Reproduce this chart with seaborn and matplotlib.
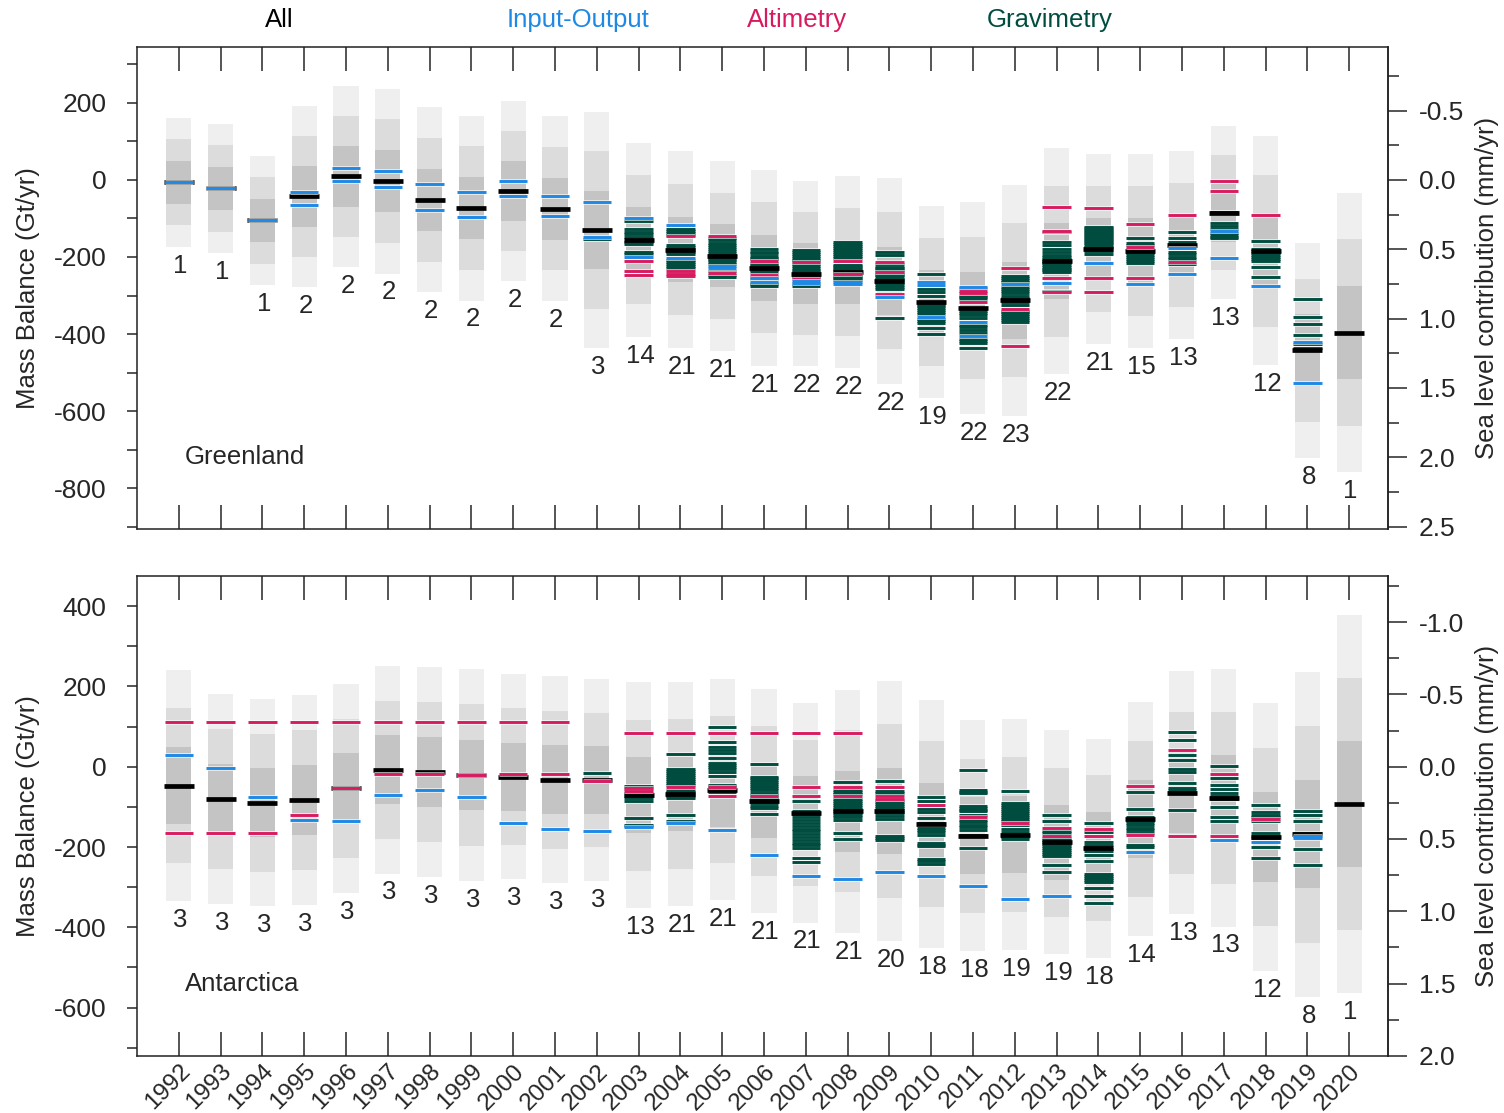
import numpy as np
import pandas as pd
import matplotlib
matplotlib.use("Agg")
import matplotlib.pyplot as plt
import matplotlib.patheffects as pe
from matplotlib.ticker import MultipleLocator, FuncFormatter
import seaborn as sns

years = list(range(1992, 2021))

# ---------------- Greenland ----------------
gre_mean = [-6, -22, -105, -43, 9, -3, -52, -73, -28, -75, -130, -155, -181, -197, -228,
            -243, -240, -262, -316, -332, -312, -211, -180, -184, -169, -85, -184, -442, -396]
gre_sigma = [56, 56, 56, 78, 78, 80, 80, 80, 78, 80, 102, 84, 85, 82, 85,
             80, 83, 89, 83, 92, 100, 98, 82, 84, 81, 75, 99, 93, 121]
gre_count = [1, 1, 1, 2, 2, 2, 2, 2, 2, 2, 3, 14, 21, 21, 21, 22, 22, 22, 19, 22, 23,
             22, 21, 15, 13, 13, 12, 8, 1]
gre_io = {1992: [-6], 1993: [-22], 1994: [-105], 1995: [-31, -66], 1996: [30, -3],
          1997: [24, -18], 1998: [-10, -78], 1999: [-32, -97], 2000: [-2, -43],
          2001: [-42, -94], 2002: [-56, -147], 2003: [-100, -199], 2004: [-117, -203],
          2005: [-223, -228], 2006: [-255, -264], 2007: [-262, -267], 2008: [-264, -270],
          2009: [-303], 2010: [-264, -272, -355], 2011: [-277, -368, -404], 2012: [-270],
          2013: [-267], 2014: [-215], 2015: [-271], 2016: [-177, -245], 2017: [-132, -203],
          2018: [-275], 2019: [-526, -420]}
gre_alt = {2003: [-211, -237, -247], 2004: [-146, -237, -243, -249], 2005: [-145, -242],
           2006: [-210, -247], 2007: [-213, -257], 2008: [-211, -243], 2009: [-212, -240, -296],
           2011: [-281, -287, -293, -318], 2012: [-229, -336, -430],
           2013: [-69, -132, -255, -290], 2014: [-72, -255, -292], 2015: [-114, -175, -255],
           2016: [-90, -212], 2017: [-2, -29], 2018: [-90]}
gre_grav = {2002: [-153],
            2003: [-106, -128, -134, -140, -147, -160, -166, -186, -193],
            2004: [-127, -132, -138, -143, -168, -173, -178, -183, -188, -193, -208, -213, -219, -224, -229],
            2005: [-151, -157, -163, -169, -174, -179, -184, -189, -194, -199, -204, -209, -214, -219, -236, -247, -252],
            2006: [-178, -186, -190, -197, -206, -216, -220, -224, -229, -233, -238, -251, -258, -268, -271, -275, -203],
            2007: [-183, -188, -193, -197, -203, -207, -210, -219, -224, -229, -233, -237, -241, -245, -249, -252, -271, -275],
            2008: [-162, -167, -172, -177, -182, -187, -192, -197, -203, -220, -224, -228, -232, -236, -247, -251, -255, -259],
            2009: [-188, -195, -218, -225, -229, -234, -238, -244, -248, -252, -256, -260, -264, -268, -272, -277, -283, -359],
            2010: [-244, -282, -290, -300, -320, -324, -328, -333, -338, -343, -348, -360, -366, -372, -384, -401],
            2011: [-300, -305, -310, -340, -345, -351, -358, -377, -383, -390, -397, -412, -418, -424, -435],
            2012: [-250, -255, -260, -264, -277, -282, -288, -294, -300, -307, -318, -325, -339, -344, -349, -354, -359, -364, -369],
            2013: [-135, -162, -170, -179, -188, -195, -200, -205, -210, -213, -215, -220, -225, -230, -235, -238, -287],
            2014: [-121, -125, -129, -133, -137, -141, -145, -149, -153, -157, -161, -165, -169, -173, -177, -185, -192],
            2015: [-151, -165, -170, -180, -186, -190, -196, -201, -206, -211, -216],
            2016: [-135, -150, -160, -169, -186, -193, -199, -204, -219],
            2017: [-83, -87, -113, -120, -127, -138, -144, -148, -151],
            2018: [-158, -180, -184, -190, -195, -200, -205, -210, -227, -251],
            2019: [-309, -355, -374, -403, -425, -437],
            2020: [-396]}

# ---------------- Antarctica ----------------
ant_mean = [-47, -81, -90, -83, -54, -8, -13, -21, -25, -32, -33, -71, -68, -57, -85,
            -115, -111, -110, -143, -172, -169, -188, -203, -130, -65, -77, -175, -168, -93]
ant_sigma = [96, 87, 86, 87, 87, 86, 87, 88, 85, 86, 84, 94, 93, 92, 93,
             91, 101, 108, 103, 96, 96, 93, 91, 97, 101, 107, 111, 135, 157]
ant_count = [3, 3, 3, 3, 3, 3, 3, 3, 3, 3, 3, 13, 21, 21, 21, 21, 21, 20, 18, 18, 19,
             19, 18, 14, 13, 13, 12, 8, 1]
ant_io = {1992: [30], 1993: [-3], 1994: [-75], 1995: [-132], 1996: [-134], 1997: [-70],
          1998: [-57], 1999: [-75], 2000: [-140], 2001: [-154], 2002: [-160], 2003: [-151],
          2004: [-139], 2005: [-157], 2006: [-219], 2007: [-272], 2008: [-279], 2009: [-263],
          2010: [-272], 2011: [-296], 2012: [-330], 2013: [-323], 2015: [-212],
          2017: [-182], 2018: [-188], 2019: [-178, -172]}
ant_alt = {1992: [111, -164], 1993: [111, -164], 1994: [111, -164], 1995: [111, -121],
           1996: [111, -54], 1997: [111, -19], 1998: [111, -17], 1999: [111, -21],
           2000: [111, -19], 2001: [111, -19], 2002: [-36], 2003: [83, -53, -61],
           2004: [83, -51], 2005: [83, -51, -74], 2006: [83, -72], 2007: [83, -51, -74],
           2008: [83, -51, -74], 2009: [-51, -74, -80], 2010: [-95], 2011: [-125],
           2012: [-140], 2013: [-153, -172], 2014: [-155, -172], 2015: [-47, -171],
           2016: [41, -172], 2017: [-17, -172], 2018: [-129]}
ant_grav = {2002: [-16],
            2003: [-47, -56, -66, -72, -78, -85, -128, -144, -148],
            2004: [32, -5, -10, -15, -20, -25, -30, -35, -41, -45, -58, -62, -66, -70, -74, -77, -121, -135],
            2005: [99, 61, 48, 41, 34, 21, 9, 4, -1, -6, -12, -24, -45, -47, -52, -57, -62],
            2006: [6, -25, -28, -33, -38, -43, -48, -53, -59, -65, -70, -76, -81, -86, -91, -97, -102, -118],
            2007: [-86, -110, -118, -125, -133, -140, -147, -154, -161, -168, -175, -182, -189, -196, -203, -227, -238],
            2008: [-37, -57, -62, -68, -80, -85, -90, -95, -100, -105, -110, -115, -120, -125, -132, -164, -180],
            2009: [-35, -60, -65, -82, -87, -92, -97, -102, -107, -112, -115, -122, -130, -173, -178, -182],
            2010: [-76, -86, -105, -113, -128, -140, -153, -158, -163, -169, -190, -194, -198, -230, -236, -242],
            2011: [-7, -57, -62, -66, -97, -102, -107, -111, -120, -132, -138, -144, -150, -157, -170, -202],
            2012: [-60, -91, -96, -101, -106, -111, -116, -120, -125, -130, -135, -145, -154, -162, -170, -176, -180],
            2013: [-120, -134, -161, -166, -178, -183, -188, -193, -198, -203, -208, -213, -218, -223, -246, -262],
            2014: [-139, -162, -188, -196, -205, -210, -219, -234, -267, -272, -277, -282, -286, -302, -323, -340],
            2015: [-64, -105, -126, -135, -140, -146, -152, -157, -165, -196, -200],
            2016: [86, 66, 30, 17, -5, -14, -41, -53, -58, -64, -107],
            2017: [2, -29, -46, -56, -66, -74, -80, -100, -124, -135],
            2018: [-95, -114, -120, -125, -136, -164, -172, -178, -200, -228],
            2019: [-110, -121, -134, -165, -204, -246],
            2020: [-92]}

# ---------------- style ----------------
C_IO = "#1E88E5"
C_ALT = "#D81B60"
C_GRAV = "#004D40"
BAND = ["#EFEFEF", "#DCDCDC", "#C4C4C4"]
GT_PER_MM = 360.0
FS = 18.5

sns.set_style("ticks")
plt.rcParams["font.family"] = ["Liberation Sans", "DejaVu Sans"]
plt.rcParams["axes.unicode_minus"] = False


def long_frame(d, method):
    rows = [(y, v, method) for y, vals in d.items() for v in vals]
    return pd.DataFrame(rows, columns=["year", "value", "method"])


def draw_panel(ax, mean, sigma, count, io, alt, grav, ylim, major, name):
    mean = np.asarray(mean, float)
    sigma = np.asarray(sigma, float)
    for k, col in zip([3, 2, 1], BAND):
        ax.bar(years, 2 * k * sigma, bottom=mean - k * sigma, width=0.6,
               color=col, linewidth=0, zorder=1)

    halo = [pe.Stroke(linewidth=3.3, foreground="white", alpha=0.75), pe.Normal()]
    layers = [(grav, "Gravimetry", C_GRAV, 3), (alt, "Altimetry", C_ALT, 5),
              (io, "Input-Output", C_IO, 6)]
    for d, meth, col, z in layers:
        df = long_frame(d, meth)
        n0 = len(ax.collections)
        sns.scatterplot(data=df, x="year", y="value", marker="_", s=420,
                        color=col, linewidth=2.1, ax=ax, zorder=z, legend=False)
        for c in ax.collections[n0:]:
            c.set_path_effects(halo)
    mdf = pd.DataFrame({"year": years, "value": mean})
    sns.scatterplot(data=mdf, x="year", y="value", marker="_", s=480,
                    color="black", linewidth=3.4, ax=ax, zorder=4, legend=False)

    for yr, m, s, c in zip(years, mean, sigma, count):
        ax.annotate(str(c), (yr, m - 3 * s), xytext=(1, -5), textcoords="offset points",
                    ha="center", va="top", fontsize=FS)

    ax.set_xlim(1991.0, 2020.93)
    ax.set_ylim(*ylim)
    ax.set_xticks(years)
    ax.tick_params(axis="x", which="both", direction="in", top=True, bottom=True,
                   length=17, width=1.1, labelsize=17.5, pad=3)
    ax.yaxis.set_major_locator(MultipleLocator(major))
    ax.yaxis.set_minor_locator(MultipleLocator(100))
    ax.tick_params(axis="y", which="both", direction="out", left=True, right=False,
                   length=7, width=1.1, labelsize=FS + 0.5, pad=15)
    for sp in ax.spines.values():
        sp.set_visible(True)
        sp.set_linewidth(1.1)
        sp.set_color("#222222")

    ax.set_xlabel("")
    ax.set_ylabel("")

    sec = ax.secondary_yaxis("right", functions=(lambda g: -g / GT_PER_MM,
                                                 lambda s: -s * GT_PER_MM))
    sec.yaxis.set_major_locator(MultipleLocator(0.5))
    sec.yaxis.set_minor_locator(MultipleLocator(0.25))
    sec.yaxis.set_major_formatter(FuncFormatter(lambda v, p: f"{v + 0.0:.1f}"))
    sec.tick_params(axis="y", which="major", length=14, width=1.1, labelsize=FS + 0.5, pad=8)
    sec.tick_params(axis="y", which="minor", length=8, width=1.1)
    sec.spines["right"].set_linewidth(1.1)

    ax.text(0.0384, 0.149, name, transform=ax.transAxes, fontsize=FS, va="center")

    # axis titles placed relative to the panel's vertical centre
    pos = ax.get_position()
    yc = pos.y0 + pos.height / 2
    fig.text(0.0186, yc, "Mass Balance (Gt/yr)", rotation=90, ha="center",
             va="center", fontsize=FS)
    fig.text(0.9887, yc, "Sea level contribution (mm/yr)", rotation=90, ha="center",
             va="center", fontsize=FS)
    return sec


fig = plt.figure(figsize=(15.04, 11.13), dpi=100)
ax1 = fig.add_axes([0.09109, 0.52471, 0.83178, 0.43306])
ax2 = fig.add_axes([0.09109, 0.05121, 0.83178, 0.43127])

draw_panel(ax1, gre_mean, gre_sigma, gre_count, gre_io, gre_alt, gre_grav,
           (-906, 345), 200, "Greenland")
draw_panel(ax2, ant_mean, ant_sigma, ant_count, ant_io, ant_alt, ant_grav,
           (-720.5, 475), 200, "Antarctica")

ax1.tick_params(axis="x", labelbottom=False)
ax2.set_xticks(years)
ax2.set_xticklabels([str(y) for y in years], rotation=45, ha="right",
                    rotation_mode="anchor", fontsize=17.5)

for label, x, col in [("All", 0.186, "black"), ("Input-Output", 0.384, C_IO),
                      ("Altimetry", 0.530, C_ALT), ("Gravimetry", 0.698, C_GRAV)]:
    fig.text(x, 0.982, label, color=col, fontsize=FS, ha="center", va="center")

fig.savefig("out.png", dpi=100)
